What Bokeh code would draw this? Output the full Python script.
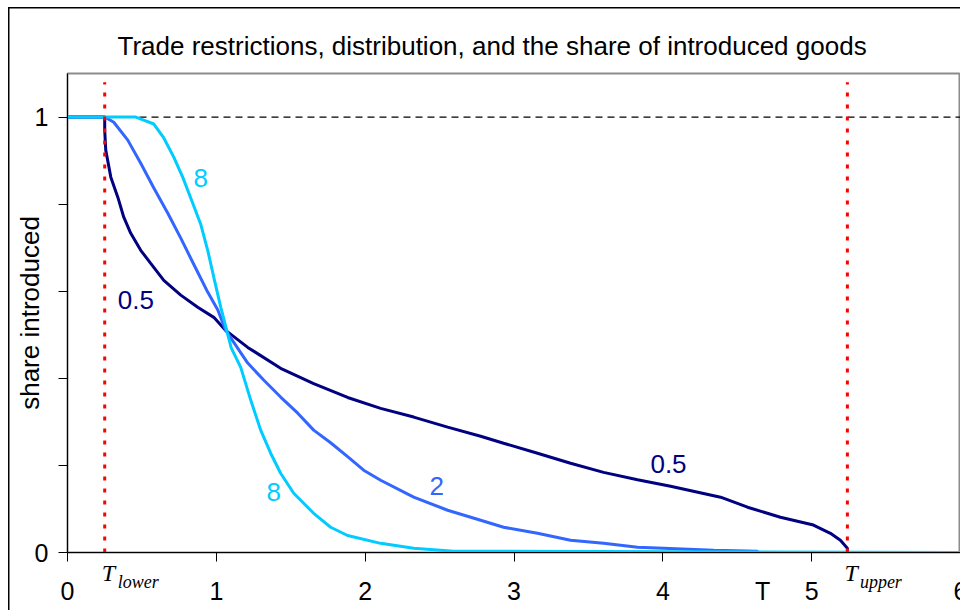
import math
from bokeh.plotting import figure
from bokeh.models import Range1d, FixedTicker, LinearAxis, ColumnDataSource
from bokeh.core.properties import value
from bokeh.embed import file_html
from bokeh.resources import INLINE

# ---------------- data ----------------
title_text = "Trade restrictions, distribution, and the share of introduced goods"
y_label = "share introduced"
x_label = "T"
x_label_at = 4.67
x_ticks = [0, 1, 2, 3, 4, 5, 6]
y_ticks = [0, 0.2, 0.4, 0.6, 0.8, 1.0]
y_labelled = [0, 1.0]
full_share = 1.0
t_lower = 0.25
t_upper = 5.24
marker_top = 1.08
bound_names = ["lower", "upper"]

# dispersion 0.5 (navy)
t_05 = [0, 0.25, 0.25, 0.257, 0.291, 0.338, 0.378, 0.425, 0.492, 0.559, 0.647, 0.761,
        0.875, 0.983, 1.063, 1.211, 1.432, 1.654, 1.882, 2.104, 2.326, 2.554, 2.776,
        2.930, 3.158, 3.380, 3.602, 3.830, 4.052, 4.388, 4.569, 4.790, 5.012, 5.126,
        5.193, 5.240, 5.240, 6.0]
s_05 = [1, 1, 0.97, 0.924, 0.862, 0.816, 0.770, 0.733, 0.694, 0.664, 0.625, 0.591,
        0.563, 0.540, 0.510, 0.471, 0.423, 0.388, 0.356, 0.331, 0.311, 0.288, 0.267,
        0.251, 0.228, 0.205, 0.184, 0.167, 0.152, 0.127, 0.104, 0.081, 0.063, 0.044,
        0.028, 0.010, 0.0, 0.0]

# dispersion 2 (blue)
t_2 = [0, 0.251, 0.311, 0.405, 0.492, 0.580, 0.674, 0.761, 0.848, 0.942, 1.010, 1.063,
       1.211, 1.318, 1.432, 1.547, 1.654, 1.768, 1.882, 1.990, 2.104, 2.326, 2.554,
       2.776, 2.930, 3.158, 3.380, 3.602, 3.830, 4.005, 4.341, 4.634, 4.64, 6.0]
s_2 = [1, 1, 0.988, 0.947, 0.894, 0.837, 0.779, 0.722, 0.662, 0.598, 0.557, 0.510,
       0.435, 0.396, 0.357, 0.320, 0.281, 0.252, 0.220, 0.189, 0.166, 0.127, 0.097,
       0.074, 0.058, 0.044, 0.028, 0.021, 0.012, 0.010, 0.005, 0.003, 0.0, 0.0]

# dispersion 8 (cyan)
t_8 = [0, 0.459, 0.512, 0.580, 0.647, 0.714, 0.774, 0.828, 0.895, 0.942, 0.983, 1.030,
       1.070, 1.100, 1.164, 1.231, 1.298, 1.365, 1.432, 1.520, 1.654, 1.768, 1.882,
       2.104, 2.326, 2.594, 6.0]
s_8 = [1, 1, 0.993, 0.984, 0.952, 0.908, 0.862, 0.814, 0.754, 0.694, 0.632, 0.563,
       0.510, 0.470, 0.425, 0.350, 0.281, 0.228, 0.182, 0.136, 0.090, 0.058, 0.039,
       0.021, 0.010, 0.003, 0.0]

# curve annotations
ann_x = [0.895, 0.459, 1.386, 2.480, 4.038]
ann_y = [0.860, 0.580, 0.1385, 0.152, 0.203]
ann_text = ["8", "0.5", "8", "2", "0.5"]

NAVY = "#000080"
BLUE = "#3366FF"
CYAN = "#00CCFF"
ann_color = [CYAN, NAVY, CYAN, BLUE, NAVY]

SANS = "Liberation Sans"
SERIF = "Liberation Serif"

# ---------------- figure ----------------
p = figure(width=960, height=610, output_backend="svg", toolbar_location=None,
           x_range=Range1d(0, 6), y_range=Range1d(0, 1.1),
           min_border_left=67, min_border_right=0, min_border_top=73, min_border_bottom=58,
           title=title_text)
p.styles = {
    "background": "linear-gradient(#000,#000) 8px 7px / 1.5px 100% no-repeat, "
                  "linear-gradient(#000,#000) 8px 7px / 100% 1.5px no-repeat"
}
p.border_fill_color = None
p.background_fill_color = "white"
p.outline_line_color = "#8c8c8c"
p.outline_line_width = 2
p.xgrid.visible = False
p.ygrid.visible = False

p.title.text_font = SANS
p.title.text_font_size = "26px"
p.title.text_font_style = "normal"
p.title.text_color = "black"
p.title.align = "left"
p.title.offset = 50
p.title.standoff = 26

# main x axis: line and tick marks only (tick labels are carried by the label axes below)
xa = p.xaxis[0]
xa.ticker = FixedTicker(ticks=[], minor_ticks=x_ticks)
xa.major_tick_out = 9
xa.major_tick_in = 0
xa.minor_tick_out = 9
xa.minor_tick_in = 0
xa.minor_tick_line_color = "black"
xa.major_label_standoff = 0
xa.axis_line_color = "black"

ya = p.yaxis[0]
ya.ticker = FixedTicker(ticks=y_labelled,
                        minor_ticks=[t for t in y_ticks if t not in y_labelled])
ya.major_tick_out = 9
ya.major_tick_in = 0
ya.minor_tick_out = 9
ya.minor_tick_in = 0
ya.minor_tick_line_color = "black"
ya.major_label_standoff = 10
ya.major_label_text_font = SANS
ya.major_label_text_font_size = "25px"
ya.major_label_text_color = "black"
ya.axis_line_color = "black"
ya.axis_label = y_label
ya.axis_label_text_font = SANS
ya.axis_label_text_font_size = "26px"
ya.axis_label_text_font_style = "normal"
ya.axis_label_text_color = "black"
ya.axis_label_standoff = -13


def label_axis(ticks, labels, font, size, style, standoff):
    """A label-only axis stacked below the main x axis."""
    ax = LinearAxis(ticker=FixedTicker(ticks=ticks))
    ax.major_label_overrides = {t: l for t, l in zip(ticks, labels) if l is not None}
    ax.axis_line_color = None
    ax.major_tick_line_color = None
    ax.minor_tick_line_color = None
    ax.major_tick_out = 0
    ax.major_tick_in = 0
    ax.major_label_standoff = standoff
    ax.major_label_text_font = font
    ax.major_label_text_font_size = size
    ax.major_label_text_font_style = style
    ax.major_label_text_color = "black"
    p.add_layout(ax, "below")


bounds = [t_lower, t_upper]
label_axis([b + 0.025 for b in bounds], ["T", "T"], SERIF, "24px", "italic", -2)
label_axis([b + 0.225 for b in bounds], bound_names, SERIF, "18px", "italic", -17)
label_axis(x_ticks + [x_label_at], [None] * len(x_ticks) + [x_label], SANS, "25px", "normal", -18)

# reference dashed line at full share
p.line(x=[x_ticks[0], x_ticks[-1]], y=[full_share, full_share], line_color="black",
       line_width=1.3, line_dash="7 5")

# curves
p.line(t_05, s_05, line_color=NAVY, line_width=3)
p.line(t_2, s_2, line_color=BLUE, line_width=3)
p.line(t_8, s_8, line_color=CYAN, line_width=3)

# red threshold markers
p.segment(x0=bounds, y0=[0, 0], x1=bounds, y1=[marker_top, marker_top],
          line_color="#FF0000", line_width=3, line_dash="4 8")

# curve labels
src = ColumnDataSource(dict(x=ann_x, y=ann_y, text=ann_text, color=ann_color))
p.text(x="x", y="y", text="text", source=src, text_color="color",
       text_font=value(SANS), text_font_size="26px", text_align="center",
       text_baseline="middle")

open("out.html", "w").write(file_html(p, INLINE))
